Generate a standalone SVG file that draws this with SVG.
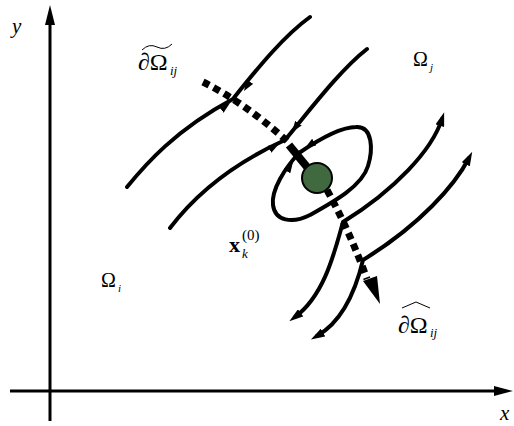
<svg xmlns="http://www.w3.org/2000/svg" width="514" height="426" viewBox="0 0 514 426">
<style>
.ax{stroke:#000;stroke-width:3;fill:none}
.cv{stroke:#000;stroke-width:4;fill:none;stroke-linecap:round}
.dot{stroke:#000;stroke-width:7;fill:none;stroke-dasharray:7 5}
.ma{stroke:none;fill:none;marker-end:url(#mid)}
.t{font-family:"Liberation Serif","Times New Roman",serif;fill:#000}
.it{font-style:italic}
</style>
<defs>
<marker id="ah" viewBox="0 0 14 9" refX="7" refY="4.5" markerWidth="14" markerHeight="9" markerUnits="userSpaceOnUse" orient="auto-start-reverse"><path d="M0,0 L14,4.5 L0,9 z" fill="#000"/></marker>
<marker id="mid" viewBox="0 0 11 8" refX="11" refY="4" markerWidth="11" markerHeight="8" markerUnits="userSpaceOnUse" orient="auto"><path d="M0,0 L11,4 L0,8 z" fill="#000"/></marker>
</defs>
<g id="axes">
<line class="ax" x1="50" y1="421" x2="50" y2="22"/>
<polygon points="45,25 50,5 55,25" fill="#000"/>
<line class="ax" x1="10" y1="391" x2="496" y2="391"/>
<polygon points="494,386 513,391 494,396" fill="#000"/>
<text class="t it" x="12" y="33" font-size="21">y</text>
<text class="t it" x="500" y="420" font-size="21">x</text>
</g>
<g id="connectors">
<path class="cv" d="M127,187 C145,165 175,130 233,99 C260,65 285,35 310,17"/>
<path class="cv" d="M170,228 C195,195 230,165 285,140 C310,110 340,70 367,49"/>
<path class="cv" d="M299,153 C318,140 340,127 356,127 C373,126 373,150 368,166 C362,186 335,201 310,215 C292,224 275,221 273,205 C271,190 285,168 299,153 Z"/>
<path class="cv" d="M442,119 C432,150 395,190 343,222 C335,250 325,295 295,317" marker-start="url(#ah)" marker-end="url(#ah)"/>
<path class="cv" d="M469,158 C455,185 420,225 363,260 C357,285 345,320 317,336" marker-start="url(#ah)" marker-end="url(#ah)"/>
<path class="ma" d="M222,109 L230,103"/>
<path class="ma" d="M251,80 L244,91"/>
<path class="ma" d="M268,150 L279,144"/>
<path class="ma" d="M300,121 L292,132"/>
<path class="ma" d="M316,141 L305,148"/>
<path class="ma" d="M285,174 L293,162"/>
<path class="dot" d="M203,82 Q245,103 287,141"/>
<line x1="289" y1="145" x2="307" y2="167" stroke="#000" stroke-width="8"/>
<path class="dot" d="M327,190 Q350,232 367,279"/>
<polygon points="363,281 377,276 380,304" fill="#000"/>
</g>
<g id="point">
<circle cx="317" cy="178" r="15" fill="#41693f" stroke="#000" stroke-width="2"/>
</g>
<g id="labels">
<text class="t" x="138" y="70" font-size="24">∂Ω</text>
<text class="t it" x="170" y="75" font-size="13">ij</text>
<path d="M142,50 Q149,43 157,47 T172,44" fill="none" stroke="#000" stroke-width="1"/>
<text class="t" x="398" y="333" font-size="24">∂Ω</text>
<text class="t it" x="430" y="337" font-size="13">ij</text>
<path d="M402,308 L416,302 L430,308" fill="none" stroke="#000" stroke-width="1"/>
<text class="t" x="413" y="66" font-size="20">Ω</text>
<text class="t it" x="430" y="71" font-size="11">j</text>
<text class="t" x="101" y="287" font-size="20">Ω</text>
<text class="t it" x="118" y="292" font-size="11">i</text>
<text class="t" x="229" y="252" font-size="22" font-weight="bold">x</text>
<text class="t" x="242" y="240" font-size="15">(0)</text>
<text class="t it" x="242" y="258" font-size="13">k</text>
</g>
</svg>
